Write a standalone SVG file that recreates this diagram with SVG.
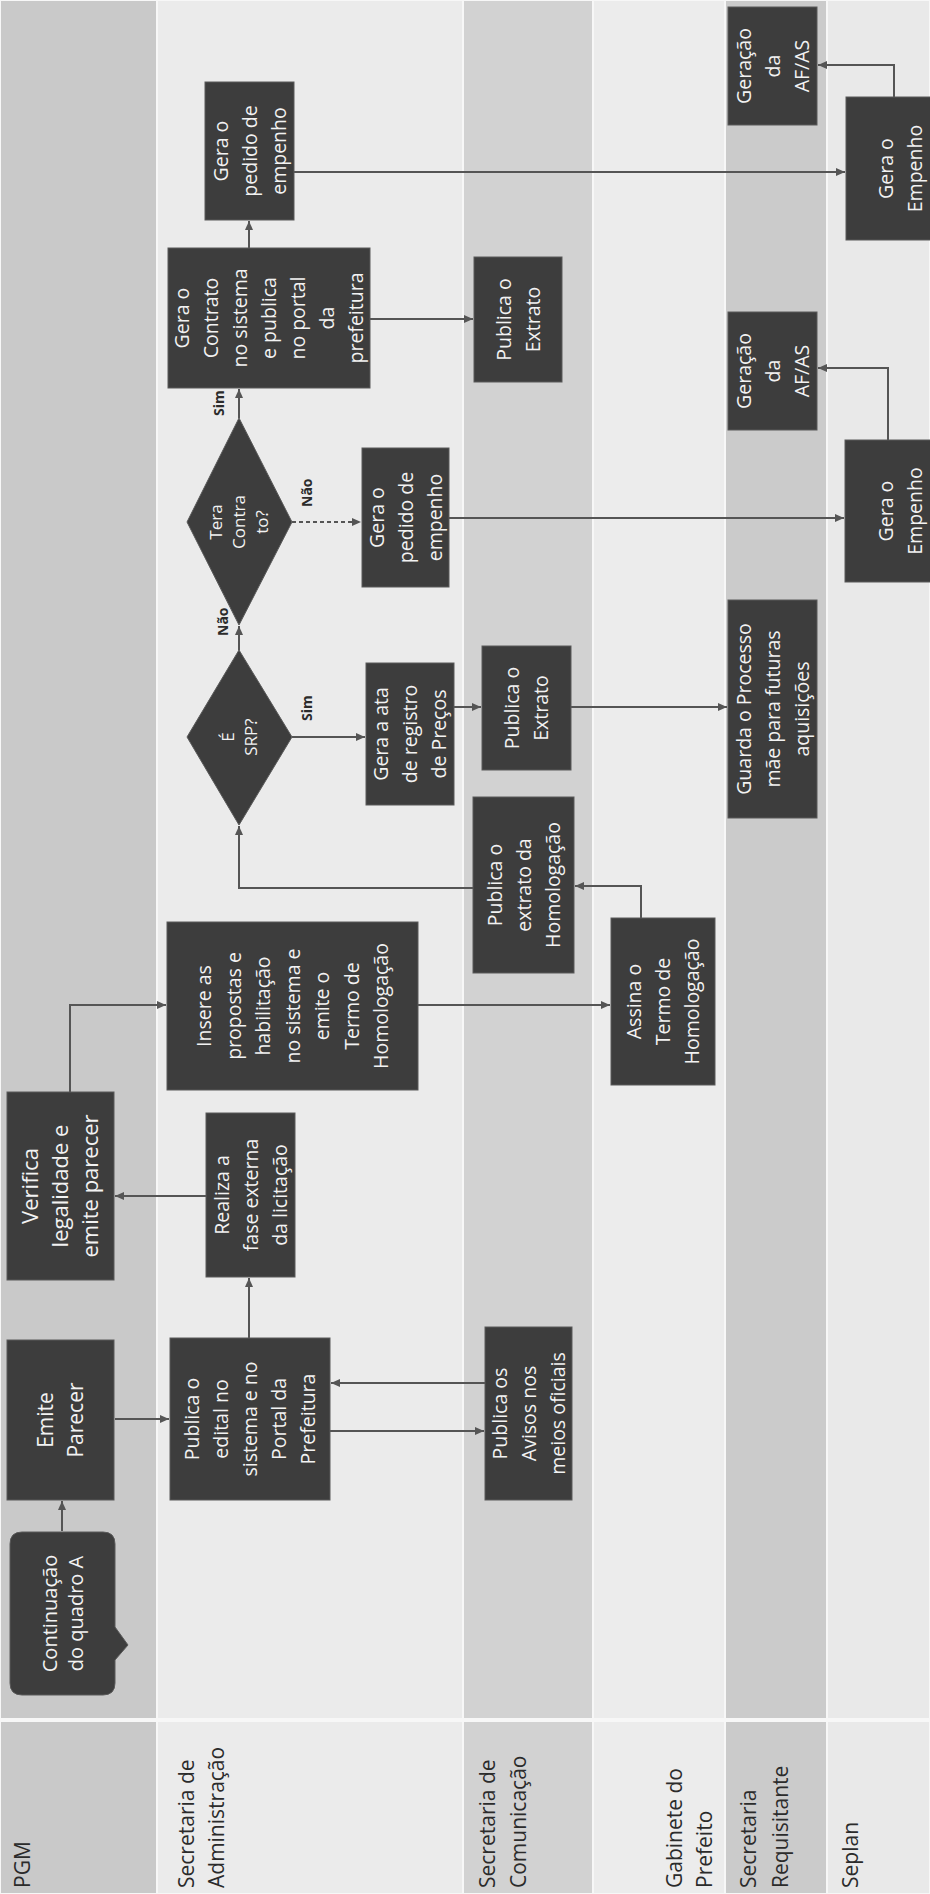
<svg xmlns="http://www.w3.org/2000/svg" width="930" height="1894" viewBox="0 0 930 1894">
<style>
.lane{stroke:#f7f7f7;stroke-width:2}
.box{fill:#3d3d3d;stroke:#5a5a5a;stroke-width:1}
.nt{font-family:"Open Sans","Liberation Sans",sans-serif;font-size:19.5px;fill:#f2f2f2;text-anchor:middle}
.dt{font-family:"Open Sans","Liberation Sans",sans-serif;font-size:17px;fill:#f2f2f2;text-anchor:middle}
.hd{font-family:"Open Sans","Liberation Sans",sans-serif;font-size:21px;fill:#2b2b2b}
.el{font-family:"Open Sans","Liberation Sans",sans-serif;font-size:14px;font-weight:bold;fill:#2b2b2b}
.c{fill:none;stroke:#555;stroke-width:2;marker-end:url(#ah)}
.dash{stroke-dasharray:4 3}
</style>
<defs>
<marker id="ah" markerUnits="userSpaceOnUse" markerWidth="10" markerHeight="10" refX="9" refY="5" orient="auto">
<path d="M0,1 L9,5 L0,9 z" fill="#555"/>
</marker>
</defs>

<g id="lanes">
<rect class="lane" x="0" y="0" width="157" height="1894" fill="#c9c9c9"/>
<rect class="lane" x="157" y="0" width="306" height="1894" fill="#ebebeb"/>
<rect class="lane" x="463" y="0" width="130" height="1894" fill="#d2d2d2"/>
<rect class="lane" x="593" y="0" width="132" height="1894" fill="#ececec"/>
<rect class="lane" x="725" y="0" width="102" height="1894" fill="#cbcbcb"/>
<rect class="lane" x="827" y="0" width="103" height="1894" fill="#e9e9e9"/>
<line x1="0" y1="1720" x2="930" y2="1720" stroke="#f7f7f7" stroke-width="4"/>
</g>

<g id="headers">
<text class="hd" transform="translate(30,1888) rotate(-90)">PGM</text>
<text class="hd" transform="translate(194,1888) rotate(-90)"><tspan x="0" y="0">Secretaria de</tspan><tspan x="0" dy="30">Administração</tspan></text>
<text class="hd" transform="translate(495,1888) rotate(-90)"><tspan x="0" y="0">Secretaria de</tspan><tspan x="0" dy="31">Comunicação</tspan></text>
<text class="hd" transform="translate(682,1888) rotate(-90)"><tspan x="0" y="0">Gabinete do</tspan><tspan x="0" dy="30">Prefeito</tspan></text>
<text class="hd" transform="translate(756,1888) rotate(-90)"><tspan x="0" y="0">Secretaria</tspan><tspan x="0" dy="32">Requisitante</tspan></text>
<text class="hd" transform="translate(858,1888) rotate(-90)">Seplan</text>
</g>

<g id="connectors">
<path class="c" d="M62,1531 V1501"/>
<path class="c" d="M115,1419 H169"/>
<path class="c" d="M330,1431 H484"/>
<path class="c" d="M485,1383 H331"/>
<path class="c" d="M249,1338 V1278"/>
<path class="c" d="M206,1196 H115"/>
<path class="c" d="M70,1092 V1005 H166"/>
<path class="c" d="M418,1005 H610"/>
<path class="c" d="M641,918 V886 H575"/>
<path class="c" d="M473,888 H239 V826"/>
<path class="c" d="M239,650 V626"/>
<path class="c" d="M292,737 H365"/>
<path class="c" d="M454,707 H481"/>
<path class="c" d="M571,707 H727"/>
<path class="c dash" d="M292,522 H361"/>
<path class="c" d="M449,518 H844"/>
<path class="c" d="M239,418 V389"/>
<path class="c" d="M249,248 V221"/>
<path class="c" d="M370,319 H473"/>
<path class="c" d="M294,172 H845"/>
<path class="c" d="M894,97 V65 H818"/>
<path class="c" d="M888,440 V368 H818"/>
<text class="el" transform="translate(224,416) rotate(-90)">Sim</text>
<text class="el" transform="translate(312,507) rotate(-90)">Não</text>
<text class="el" transform="translate(228,636) rotate(-90)">Não</text>
<text class="el" transform="translate(312,721) rotate(-90)">Sim</text>
</g>

<g id="n-continuacao">
<path class="box" d="M22,1532 H103 Q115,1532 115,1544 V1627 L128,1645 L115,1660 V1683 Q115,1695 103,1695 H22 Q10,1695 10,1683 V1544 Q10,1532 22,1532 Z"/>
<text class="nt" style="font-size:20px" transform="rotate(-90 62.5 1613.5)"><tspan x="62.5" y="1607.5">Continuação</tspan><tspan x="62.5" y="1633.5">do quadro A</tspan></text>
</g>

<g id="n-emite">
<rect class="box" x="7" y="1340" width="107" height="160"/>
<text class="nt" style="font-size:21px" transform="rotate(-90 60.5 1420)"><tspan x="60.5" y="1412.4">Emite</tspan><tspan x="60.5" y="1442.4">Parecer</tspan></text>
</g>

<g id="n-verifica">
<rect class="box" x="7" y="1092" width="107" height="188"/>
<text class="nt" style="font-size:22px" transform="rotate(-90 60.5 1186)"><tspan x="60.5" y="1163.7">Verifica</tspan><tspan x="60.5" y="1193.7">legalidade e</tspan><tspan x="60.5" y="1223.7">emite parecer</tspan></text>
</g>

<g id="n-publica-edital">
<rect class="box" x="170" y="1338" width="160" height="162"/>
<text class="nt" transform="rotate(-90 250 1419)"><tspan x="250" y="1368">Publica o</tspan><tspan x="250" y="1397">edital no</tspan><tspan x="250" y="1426">sistema e no</tspan><tspan x="250" y="1455">Portal da</tspan><tspan x="250" y="1484">Prefeitura</tspan></text>
</g>

<g id="n-avisos">
<rect class="box" x="485" y="1327" width="87" height="173"/>
<text class="nt" transform="rotate(-90 528.5 1413.5)"><tspan x="528.5" y="1391.5">Publica os</tspan><tspan x="528.5" y="1420.5">Avisos nos</tspan><tspan x="528.5" y="1449.5">meios oficiais</tspan></text>
</g>

<g id="n-realiza">
<rect class="box" x="206" y="1113" width="89" height="164"/>
<text class="nt" transform="rotate(-90 250.5 1195)"><tspan x="250.5" y="1173">Realiza a</tspan><tspan x="250.5" y="1202">fase externa</tspan><tspan x="250.5" y="1231">da licitação</tspan></text>
</g>

<g id="n-insere">
<rect class="box" x="167" y="922" width="251" height="168"/>
<text class="nt" transform="rotate(-90 292.5 1006)"><tspan x="292.5" y="924.5">Insere as</tspan><tspan x="292.5" y="954">propostas e</tspan><tspan x="292.5" y="983.5">habilitação</tspan><tspan x="292.5" y="1013">no sistema e</tspan><tspan x="292.5" y="1042.5">emite o</tspan><tspan x="292.5" y="1072">Termo de</tspan><tspan x="292.5" y="1101.5">Homologação</tspan></text>
</g>

<g id="n-assina">
<rect class="box" x="611" y="918" width="104" height="167"/>
<text class="nt" transform="rotate(-90 663 1001.5)"><tspan x="663" y="979.5">Assina o</tspan><tspan x="663" y="1008.5">Termo de</tspan><tspan x="663" y="1037.5">Homologação</tspan></text>
</g>

<g id="n-publica-homologacao">
<rect class="box" x="473" y="797" width="101" height="176"/>
<text class="nt" transform="rotate(-90 523.5 885)"><tspan x="523.5" y="863">Publica o</tspan><tspan x="523.5" y="892">extrato da</tspan><tspan x="523.5" y="921">Homologação</tspan></text>
</g>

<g id="n-e-srp">
<polygon class="box" points="239,650 292,737 239,825 187,737"/>
<text class="dt" transform="rotate(-90 240 737)"><tspan x="240" y="731">É</tspan><tspan x="240" y="754">SRP?</tspan></text>
</g>

<g id="n-ata">
<rect class="box" x="366" y="663" width="88" height="142"/>
<text class="nt" transform="rotate(-90 410 734)"><tspan x="410" y="712">Gera a ata</tspan><tspan x="410" y="741">de registro</tspan><tspan x="410" y="770">de Preços</tspan></text>
</g>

<g id="n-extrato-2">
<rect class="box" x="482" y="646" width="89" height="124"/>
<text class="nt" transform="rotate(-90 526.5 708)"><tspan x="526.5" y="700.5">Publica o</tspan><tspan x="526.5" y="729.5">Extrato</tspan></text>
</g>

<g id="n-guarda">
<rect class="box" x="728" y="600" width="89" height="218"/>
<text class="nt" transform="rotate(-90 772.5 709)"><tspan x="772.5" y="687">Guarda o Processo</tspan><tspan x="772.5" y="716">mãe para futuras</tspan><tspan x="772.5" y="745">aquisições</tspan></text>
</g>

<g id="n-tera-contrato">
<polygon class="box" points="239,418 292,522 239,625 187,522"/>
<text class="dt" transform="rotate(-90 239.5 522)"><tspan x="239.5" y="504">Tera</tspan><tspan x="239.5" y="527">Contra</tspan><tspan x="239.5" y="550">to?</tspan></text>
</g>

<g id="n-pedido-2">
<rect class="box" x="362" y="448" width="87" height="139"/>
<text class="nt" transform="rotate(-90 405.5 517.5)"><tspan x="405.5" y="495.5">Gera o</tspan><tspan x="405.5" y="524.5">pedido de</tspan><tspan x="405.5" y="553.5">empenho</tspan></text>
</g>

<g id="n-empenho-2">
<rect class="box" x="845" y="440" width="100" height="142"/>
<text class="nt" transform="rotate(-90 900 511)"><tspan x="900" y="503.5">Gera o</tspan><tspan x="900" y="532.5">Empenho</tspan></text>
</g>

<g id="n-geracao-2">
<rect class="box" x="728" y="312" width="89" height="118"/>
<text class="nt" transform="rotate(-90 772.5 371)"><tspan x="772.5" y="349">Geração</tspan><tspan x="772.5" y="378">da</tspan><tspan x="772.5" y="407">AF/AS</tspan></text>
</g>

<g id="n-contrato">
<rect class="box" x="168" y="248" width="202" height="140"/>
<text class="nt" transform="rotate(-90 269 318)"><tspan x="269" y="238">Gera o</tspan><tspan x="269" y="267">Contrato</tspan><tspan x="269" y="296">no sistema</tspan><tspan x="269" y="325">e publica</tspan><tspan x="269" y="354">no portal</tspan><tspan x="269" y="383">da</tspan><tspan x="269" y="412">prefeitura</tspan></text>
</g>

<g id="n-extrato-1">
<rect class="box" x="474" y="257" width="88" height="125"/>
<text class="nt" transform="rotate(-90 518 319.5)"><tspan x="518" y="312">Publica o</tspan><tspan x="518" y="341">Extrato</tspan></text>
</g>

<g id="n-pedido-1">
<rect class="box" x="205" y="82" width="89" height="138"/>
<text class="nt" transform="rotate(-90 249.5 151)"><tspan x="249.5" y="129">Gera o</tspan><tspan x="249.5" y="158">pedido de</tspan><tspan x="249.5" y="187">empenho</tspan></text>
</g>

<g id="n-empenho-1">
<rect class="box" x="846" y="97" width="100" height="143"/>
<text class="nt" transform="rotate(-90 900 168.5)"><tspan x="900" y="161">Gera o</tspan><tspan x="900" y="190">Empenho</tspan></text>
</g>

<g id="n-geracao-1">
<rect class="box" x="728" y="7" width="89" height="118"/>
<text class="nt" transform="rotate(-90 772.5 66)"><tspan x="772.5" y="44">Geração</tspan><tspan x="772.5" y="73">da</tspan><tspan x="772.5" y="102">AF/AS</tspan></text>
</g>
</svg>
